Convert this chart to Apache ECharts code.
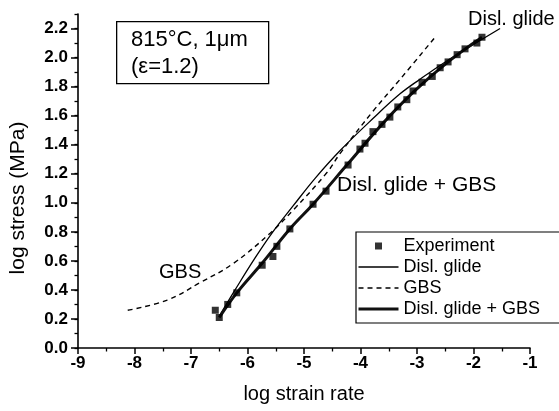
<!DOCTYPE html>
<html>
<head>
<meta charset="utf-8">
<script src="https://cdn.jsdelivr.net/npm/echarts@6/dist/echarts.min.js"></script>
<style>
  html, body { margin: 0; padding: 0; background: #fff; }
  #chart { width: 559px; height: 411px; }
</style>
</head>
<body>
<div id="chart"></div>
<script>
// ---- data ----
const expX = [-6.57, -6.50, -6.35, -6.19, -5.74, -5.55, -5.48, -5.25, -4.84, -4.61, -4.22, -4.01, -3.92, -3.78, -3.62, -3.48, -3.34, -3.18, -3.07, -2.91, -2.73, -2.59, -2.45, -2.29, -2.15, -1.94, -1.85];
const expY = [0.26, 0.21, 0.30, 0.38, 0.57, 0.63, 0.70, 0.82, 0.99, 1.08, 1.26, 1.37, 1.41, 1.49, 1.54, 1.59, 1.66, 1.71, 1.77, 1.83, 1.87, 1.93, 1.97, 2.02, 2.06, 2.10, 2.14];

const glideX = [-6.50, -6.22, -5.90, -5.57, -5.19, -4.80, -4.36, -3.78, -3.30, -2.95, -2.50, -2.00, -1.53];
const glideY = [0.22, 0.40, 0.60, 0.79, 0.98, 1.17, 1.36, 1.58, 1.75, 1.85, 1.97, 2.09, 2.20];

const gbsX = [-8.12, -7.42, -6.84, -6.26, -5.60, -5.19, -4.59, -4.36, -3.78, -3.30, -2.68];
const gbsY = [0.26, 0.33, 0.45, 0.58, 0.79, 0.95, 1.21, 1.34, 1.63, 1.85, 2.14];

const bothX = [-6.50, -6.19, -5.75, -5.25, -4.84, -4.22, -3.62, -3.07, -2.45, -1.85];
const bothY = [0.21, 0.38, 0.58, 0.82, 0.99, 1.27, 1.54, 1.76, 1.97, 2.14];

const xTicks = [-9, -8, -7, -6, -5, -4, -3, -2, -1];
const yTicks = [0.0, 0.2, 0.4, 0.6, 0.8, 1.0, 1.2, 1.4, 1.6, 1.8, 2.0, 2.2];
const yMinorTicks = [0.0, 0.1, 0.2, 0.3, 0.4, 0.5, 0.6, 0.7, 0.8, 0.9, 1.0, 1.1, 1.2, 1.3, 1.4, 1.5, 1.6, 1.7, 1.8, 1.9, 2.0, 2.1, 2.2, 2.3];

const seriesNames = ['Experiment', 'Disl. glide', 'GBS', 'Disl. glide + GBS'];
const xName = 'log strain rate';
const yName = 'log stress (MPa)';

// ---- build ----
const zip = (xs, ys) => xs.map((x, i) => [x, ys[i]]);
const FONT = '"Liberation Sans", Arial, Helvetica, sans-serif';

const chart = echarts.init(document.getElementById('chart'), null, { renderer: 'canvas' });

const option = {
  animation: false,
  backgroundColor: '#fff',
  grid: { left: 78, right: 29, top: 14, bottom: 63, containLabel: false },
  xAxis: {
    type: 'value',
    min: xTicks[0], max: xTicks[xTicks.length - 1], interval: 1,
    name: xName, nameLocation: 'middle', nameGap: 36,
    nameTextStyle: { fontFamily: FONT, fontSize: 20, color: '#000' },
    axisLine: { show: true, onZero: false, lineStyle: { color: '#000', width: 1.6 } },
    axisTick: { show: true, length: 6, lineStyle: { color: '#000', width: 1.5 } },
    minorTick: { show: true, splitNumber: 2, length: 3.5, lineStyle: { color: '#000', width: 1.3 } },
    splitLine: { show: false },
    axisLabel: { fontFamily: FONT, fontSize: 17, fontWeight: 'bold', color: '#000', margin: 7,
      formatter: v => String(v) }
  },
  yAxis: [{
    type: 'value', position: 'left',
    min: 0, max: 2.3, interval: 0.1,
    axisLine: { show: true, onZero: false, lineStyle: { color: '#000', width: 1.6 } },
    axisTick: { show: true, length: 3.5, customValues: yMinorTicks, lineStyle: { color: '#000', width: 1.3 } },
    splitLine: { show: false },
    axisLabel: { show: false }
  }, {
    type: 'value', position: 'left', offset: 0,
    min: 0, max: 2.3, interval: 0.2,
    name: yName, nameLocation: 'middle', nameGap: 49, nameRotate: 90,
    nameTextStyle: { fontFamily: FONT, fontSize: 21, color: '#000', padding: [0, 34, 0, 0] },
    axisLine: { show: false },
    axisTick: { show: true, length: 7, customValues: yTicks, lineStyle: { color: '#000', width: 1.5 } },
    splitLine: { show: false },
    axisLabel: { fontFamily: FONT, fontSize: 17, fontWeight: 'bold', color: '#000', margin: 10,
      customValues: yTicks,
      formatter: v => v.toFixed(1) }
  }],
  legend: {
    orient: 'vertical', left: 356, top: 232,
    padding: [5, 21, 5, 1], itemGap: 3,
    itemWidth: 40, itemHeight: 7,
    symbolKeepAspect: true,
    borderColor: '#000', borderWidth: 1.2, backgroundColor: '#fff',
    selectedMode: false,
    textStyle: { fontFamily: FONT, fontSize: 18, color: '#000' },
    data: [
      { name: seriesNames[0], icon: 'path://M0,0L10,0L10,10L0,10Z' },
      { name: seriesNames[1], itemStyle: { opacity: 0 }, lineStyle: { width: 1.3 } },
      { name: seriesNames[2], itemStyle: { opacity: 0 }, lineStyle: { width: 1.4 } },
      { name: seriesNames[3], itemStyle: { opacity: 0 }, lineStyle: { width: 3 } }
    ]
  },
  series: [
    {
      name: seriesNames[3], type: 'line', data: zip(bothX, bothY), smooth: 0.4,
      symbol: 'none', showSymbol: false, z: 3,
      lineStyle: { color: '#111', width: 3 }, itemStyle: { color: '#111' }
    },
    {
      name: seriesNames[1], type: 'line', data: zip(glideX, glideY), smooth: 0.4,
      symbol: 'none', showSymbol: false, z: 2,
      lineStyle: { color: '#000', width: 1.3 }, itemStyle: { color: '#000' }
    },
    {
      name: seriesNames[2], type: 'line', data: zip(gbsX, gbsY), smooth: 0.4,
      symbol: 'none', showSymbol: false, z: 2,
      lineStyle: { color: '#000', width: 1.4, type: [5, 4] }, itemStyle: { color: '#000' }
    },
    {
      name: seriesNames[0], type: 'scatter', data: zip(expX, expY),
      symbol: 'rect', symbolSize: 7, z: 4,
      itemStyle: { color: '#000' }
    }
  ],
  graphic: [
    {
      type: 'rect', left: 116, top: 21, z: 10,
      shape: { width: 152, height: 62 },
      style: { fill: '#fff', stroke: '#000', lineWidth: 1.3 }
    },
    { type: 'text', x: 131, y: 40, z: 11,
      style: { text: '815°C, 1μm', fontFamily: FONT, fontSize: 22, fill: '#000', verticalAlign: 'middle', align: 'left' } },
    { type: 'text', x: 131, y: 67, z: 11,
      style: { text: '(ε=1.2)', fontFamily: FONT, fontSize: 22, fill: '#000', verticalAlign: 'middle', align: 'left' } },
    { type: 'text', x: 159, y: 272, z: 11,
      style: { text: 'GBS', fontFamily: FONT, fontSize: 20, fill: '#000', verticalAlign: 'middle', align: 'left' } },
    { type: 'text', x: 468, y: 19, z: 11,
      style: { text: 'Disl. glide', fontFamily: FONT, fontSize: 20, fill: '#000', verticalAlign: 'middle', align: 'left' } },
    { type: 'text', x: 337, y: 185, z: 11,
      style: { text: 'Disl. glide + GBS', fontFamily: FONT, fontSize: 21, fill: '#000', verticalAlign: 'middle', align: 'left' } }
  ]
};

chart.setOption(option);
</script>
</body>
</html>
